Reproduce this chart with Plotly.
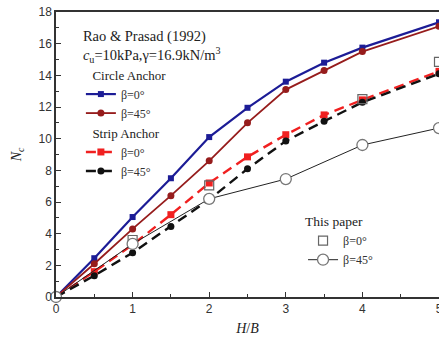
import plotly.graph_objects as go

x_rp = [0, 0.5, 1, 1.5, 2, 2.5, 3, 3.5, 4, 5]
circle_b0 = [0, 2.45, 5.05, 7.5, 10.1, 11.95, 13.6, 14.8, 15.75, 17.35]
circle_b45 = [0, 2.1, 4.3, 6.4, 8.6, 11.0, 13.1, 14.3, 15.5, 17.1]
strip_b0 = [0, 1.6, 3.3, 5.2, 7.2, 8.85, 10.25, 11.5, 12.45, 14.25]
strip_b45 = [0, 1.35, 2.8, 4.45, 6.15, 8.1, 9.85, 11.1, 12.3, 14.1]

x_tp_sq = [1, 2, 4, 5]
tp_b0 = [3.6, 7.05, 12.5, 14.85]
x_tp_ci = [0, 1, 2, 3, 4, 5]
tp_b45 = [0, 3.35, 6.2, 7.45, 9.6, 10.67]

serif = "Liberation Serif"
sans = "Liberation Sans"

fig = go.Figure()

fig.add_trace(go.Scatter(
    x=x_rp, y=circle_b0, mode="lines+markers", name="β=0°",
    line=dict(color="#1c1c96", width=2.2),
    marker=dict(symbol="square", size=6, color="#1c1c96"),
    legend="legend", legendgroup="circle",
    legendgrouptitle=dict(text="  Circle Anchor", font=dict(family=serif, size=13, color="#222")),
    cliponaxis=False))
fig.add_trace(go.Scatter(
    x=x_rp, y=circle_b45, mode="lines+markers", name="β=45°",
    line=dict(color="#961c1c", width=1.8),
    marker=dict(symbol="circle", size=7, color="#961c1c"),
    legend="legend", legendgroup="circle", cliponaxis=False))
fig.add_trace(go.Scatter(
    x=x_rp, y=strip_b0, mode="lines+markers", name="β=0°",
    line=dict(color="#f02020", width=2.4, dash="10px,6px"),
    marker=dict(symbol="square", size=7, color="#f02020"),
    legend="legend", legendgroup="strip",
    legendgrouptitle=dict(text="  Strip Anchor", font=dict(family=serif, size=13, color="#222")),
    cliponaxis=False))
fig.add_trace(go.Scatter(
    x=x_rp, y=strip_b45, mode="lines+markers", name="β=45°",
    line=dict(color="#111111", width=2.4, dash="10px,6px"),
    marker=dict(symbol="circle", size=7, color="#111111"),
    legend="legend", legendgroup="strip", cliponaxis=False))

fig.add_trace(go.Scatter(
    x=x_tp_sq, y=tp_b0, mode="markers", name="β=0°",
    marker=dict(symbol="square-open", size=9, color="#666666", line=dict(width=1.2)),
    legend="legend2", cliponaxis=False))
fig.add_trace(go.Scatter(
    x=x_tp_ci, y=tp_b45, mode="lines+markers", name="β=45°",
    line=dict(color="#222222", width=1),
    marker=dict(symbol="circle", size=11, color="white", line=dict(color="#777777", width=1.3)),
    legend="legend2", cliponaxis=False))

fig.update_layout(
    width=439, height=338,
    margin=dict(l=56, r=0, t=12, b=41),
    plot_bgcolor="white", paper_bgcolor="white",
    showlegend=True,
    legend=dict(
        x=0.065, y=0.965, xanchor="left", yanchor="top",
        bgcolor="rgba(0,0,0,0)",
        font=dict(family=serif, size=12, color="#333"),
        title=dict(text="Rao & Prasad (1992)<br><i>c</i><sub>u</sub>=10kPa,γ=16.9kN/m<sup>3</sup>",
                   font=dict(family=serif, size=14.5, color="#222"), side="top"),
        tracegroupgap=0, itemwidth=30, itemsizing="trace",
    ),
    legend2=dict(
        x=0.645, y=0.31, xanchor="left", yanchor="top",
        bgcolor="rgba(0,0,0,0)",
        font=dict(family=serif, size=12, color="#333"),
        title=dict(text="This paper", font=dict(family=serif, size=13.5, color="#222"), side="top"),
        itemwidth=30,
    ),
    xaxis=dict(
        range=[0, 5], showline=True, linecolor="#333", linewidth=1.5, mirror=True,
        showgrid=False, zeroline=False,
        tickmode="linear", tick0=0, dtick=1, ticks="inside", ticklen=5, tickcolor="#333",
        minor=dict(dtick=0.5, ticks="inside", ticklen=3, tickcolor="#333"),
        tickfont=dict(family=sans, size=12, color="#333"),
        ticklabeloverflow="allow",
        title=dict(text="<i>H</i>/<i>B</i>", font=dict(family=serif, size=14, color="#222"), standoff=8),
        automargin=False,
    ),
    yaxis=dict(
        range=[0, 18], showline=True, linecolor="#333", linewidth=1.5, mirror=False,
        showgrid=False, zeroline=False,
        tickmode="linear", tick0=0, dtick=2, ticks="inside", ticklen=5, tickcolor="#333",
        minor=dict(dtick=1, ticks="inside", ticklen=3, tickcolor="#333"),
        tickfont=dict(family=sans, size=12, color="#333"),
        title=dict(text="<i>N<sub>c</sub></i>", font=dict(family=serif, size=14, color="#222"), standoff=14),
        automargin=False,
    ),
)

fig.write_html("out.html")
